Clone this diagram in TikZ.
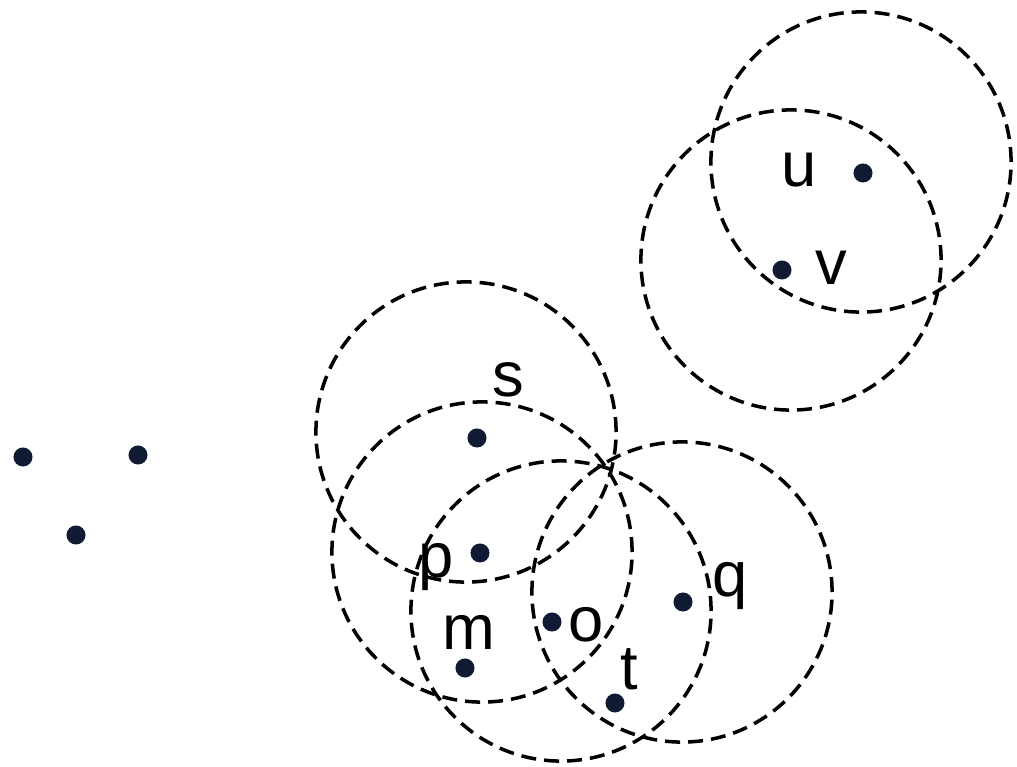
\documentclass[tikz,border=0pt]{standalone}
\usepackage{fontspec}
\setmainfont{Liberation Sans}
\usepackage{tikz}
\definecolor{ptc}{HTML}{111A33}

\begin{document}
\begin{tikzpicture}[x=0.01cm,y=-0.01cm,
  pt/.style={circle,fill=ptc,inner sep=0pt,minimum size=0.19cm},
  lbl/.style={font=\fontsize{18}{21}\selectfont,inner sep=0pt,anchor=base},
  ring/.style={line width=1pt,dash pattern=on 0.15cm off 0.08cm}]
  \useasboundingbox (0,0) rectangle (1017,767);
  % outliers
  \node[pt] (n1) at (23,457) {};
  \node[pt] (n2) at (138,455) {};
  \node[pt] (n3) at (76,535) {};
  % lower cluster
  \node[pt] (s) at (477,438) {};
  \node[pt] (p) at (480,553) {};
  \node[pt] (m) at (465,668) {};
  \node[pt] (o) at (552,622) {};
  \node[pt] (q) at (683,602) {};
  \node[pt] (t) at (615,703) {};
  % upper cluster
  \node[pt] (u) at (863,173) {};
  \node[pt] (v) at (782,270) {};
  % eps neighbourhoods
  \coordinate (cs) at (466,432);
  \coordinate (cp) at (482,552);
  \coordinate (co) at (561,611);
  \coordinate (cq) at (682,592);
  \coordinate (cu) at (861,162);
  \coordinate (cv) at (791,260);
  \foreach \c in {cs,cp,co,cq,cu,cv}
    \draw[ring] (\c) circle[radius=1.5cm];
  % labels
  \node[lbl] (ls) at (508,397) {s};
  \node[lbl] (lp) at (436,578) {p};
  \node[lbl] (lm) at (469,650) {m};
  \node[lbl] (lo) at (586,642) {o};
  \node[lbl] (lq) at (730,597) {q};
  \node[lbl] (lt) at (629,690) {t};
  \node[lbl] (lu) at (799,187) {u};
  \node[lbl] (lv) at (831,285) {v};
\end{tikzpicture}
\end{document}
